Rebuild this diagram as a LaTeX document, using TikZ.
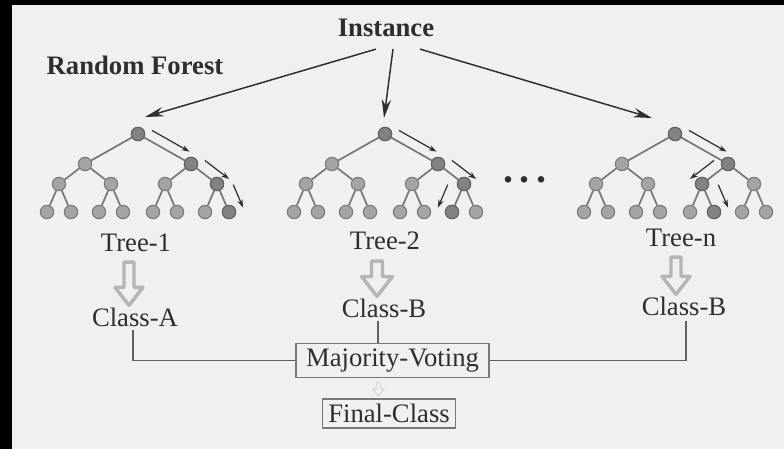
\documentclass[tikz,border=0pt]{standalone}
\usepackage{fontspec}
\setmainfont{Liberation Serif}
\usetikzlibrary{arrows.meta,calc}
\definecolor{cBg}{HTML}{F2F0EF}
\definecolor{cInk}{HTML}{2E2E2E}
\definecolor{cEdge}{HTML}{787878}
\definecolor{cNode}{HTML}{A4A4A4}
\definecolor{cDark}{HTML}{828282}
\definecolor{cFat}{HTML}{B5B5B5}
\tikzset{
  >=Stealth,
  txt/.style ={font=\fontsize{20}{24}\selectfont,text=cInk,inner sep=0pt},
  ttl/.style ={txt,font=\fontsize{20}{24}\selectfont\bfseries},
  vtx/.style ={circle,draw=cEdge,fill=cNode,line width=0.8pt,minimum size=10pt,inner sep=0pt},
  dark/.style={fill=cDark,draw=cDark!75!black},
  link/.style={cEdge,line width=1.3pt},
  hint/.style={-{Stealth[length=6pt,width=4pt]},cInk,line width=0.9pt},
  big/.style ={-{Stealth[length=14pt,width=7pt]},cInk,line width=1.1pt},
  fat/.style ={draw=cFat,fill=cBg,line width=2.6pt,line join=round},
  tiny/.style={fat,draw=cFat!50,line width=1pt},
  vbox/.style={txt,draw=cEdge,line width=1.1pt,inner xsep=7.5pt,inner ysep=4pt},
  wire/.style={cEdge!80!black,line width=1.1pt},
}
% small arrow running beside a tree edge
\newcommand{\hint}[6]{\draw[hint] ($(#1)!#3!(#2)!#5!#6:(#1)$) -- ($(#1)!#4!(#2)!#5!#6:(#1)$);}
% hollow block arrow from one label down to the next
\newcommand{\fatarrow}[5][fat]{%
  \coordinate (fa-a) at ($(#2.south)+(#4,2*#5)$);
  \coordinate (fa-b) at ($(#3.north)+(0,-2)$);
  \draw[#1] ($(fa-a)+(-#5,0)$) -- ($(fa-a |- fa-b)+(-#5,-3.6*#5)$) -- ++(-1.8*#5,0)
    -- (fa-a |- fa-b) -- ++(2.8*#5,-3.6*#5) -- ++(-1.8*#5,0) -- ($(fa-a)+(#5,0)$) -- cycle;}

\begin{document}
\begin{tikzpicture}[x=0.75pt,y=-0.75pt]
\fill[cBg] (0,0) rectangle (784,449);
\fill[black] (0,0) rectangle (12,449);
\fill[black] (0,0) rectangle (784,5);
\useasboundingbox (0,0) rectangle (784,449);

\node[ttl] (inst) at (386,28) {Instance};
\node[ttl] (rf) at (135,65) {Random Forest};

% the three trees
\foreach \t/\x in {t1/138,t2/385,tn/675}{
  \node[vtx] (\t-0) at (\x,134) {};
  \foreach \i/\dx in {1/-53,2/53}{
    \node[vtx] (\t-\i) at (\x+\dx,164) {};
    \draw[link] (\t-0) -- (\t-\i);
    \foreach \j/\ddx in {1/-26,2/26}{
      \node[vtx] (\t-\i\j) at (\x+\dx+\ddx,184) {};
      \draw[link] (\t-\i) -- (\t-\i\j);
      \foreach \k/\dddx in {1/-12,2/12}{
        \node[vtx] (\t-\i\j\k) at (\x+\dx+\ddx+\dddx,212) {};
        \draw[link] (\t-\i\j) -- (\t-\i\j\k);
      }}}}
\foreach \n in {t1-0,t1-2,t1-22,t1-222,t2-0,t2-2,t2-22,t2-221,tn-0,tn-2,tn-21,tn-212}
  \node[vtx,dark] at (\n) {};

% decision paths
\hint{t1-0}{t1-2}{.17}{.88}{7.5pt}{-90}
\hint{t1-2}{t1-22}{.27}{1.2}{8.5pt}{-90}
\hint{t1-22}{t1-222}{.23}{1.05}{11pt}{-90}
\hint{t2-0}{t2-2}{.17}{.88}{7.5pt}{-90}
\hint{t2-2}{t2-22}{.27}{1.2}{8.5pt}{-90}
\hint{t2-22}{t2-221}{.23}{1.05}{11pt}{90}
\hint{tn-0}{tn-2}{.17}{.88}{7.5pt}{-90}
\hint{tn-2}{tn-21}{.27}{1.2}{8.5pt}{90}
\hint{tn-21}{tn-212}{.23}{1.05}{11pt}{-90}

\draw[big] ($(inst.south)+(-10,12)$) -- ($(t1-0)+(7,-17)$);
\draw[big] ($(inst.south)+(7,12)$) -- ($(t2-0)+(-1,-16)$);
\draw[big] ($(inst.south)+(34,12)$) -- ($(tn-0)+(-23,-16)$);

\node[txt,font=\fontsize{30}{30}\selectfont\bfseries] (dots) at (525,180) {.\hspace{5pt}.\hspace{5pt}.};

\node[txt] (tl1) at (136,243) {Tree-1};
\node[txt] (tl2) at (385,241) {Tree-2};
\node[txt] (tln) at (681,238) {Tree-n};
\node[txt] (ca) at (135,317) {Class-A};
\node[txt] (cb) at (384,308) {Class-B};
\node[txt] (cn) at (684,306) {Class-B};
\node[vbox] (mv) at (392.5,360.5) {Majority-Voting};
\node[vbox,inner xsep=4.5pt] (fc) at (389,413.5) {Final-Class};

\fatarrow{tl1}{ca}{-7}{5}
\fatarrow{tl2}{cb}{-8}{5.5}
\fatarrow{tln}{cn}{-5}{5}
\fatarrow[tiny]{mv}{fc}{-14}{2}

\coordinate (cbw) at ($(cb.south)+(-6,3)$);
\draw[wire] ($(ca.south)+(-2,3)$) |- (mv.west);
\draw[wire] (cbw) -- (cbw |- mv.north);
\draw[wire] ($(cn.south)+(2,5)$) |- (mv.east);
\end{tikzpicture}
\end{document}
